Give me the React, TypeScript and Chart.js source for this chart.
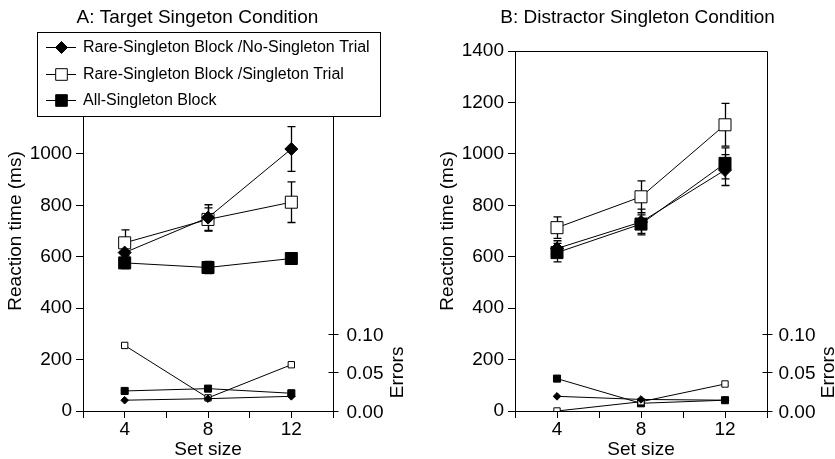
import React, { useEffect, useRef } from 'react';
import { Chart, registerables } from 'chart.js';
Chart.register(...registerables);

// ---------- data ----------
const setSizes = [4, 8, 12];
const xTickValues = [2, 4, 6, 8, 10, 12, 14];
const xLabelled = [4, 8, 12];
const rtTicks = [0, 200, 400, 600, 800, 1000, 1200, 1400];
const errTicks = [0, 0.05, 0.1];
const errTickLabels = ['0.00', '0.05', '0.10'];
const seriesNames = [
  'Rare-Singleton Block /No-Singleton Trial',
  'Rare-Singleton Block /Singleton Trial',
  'All-Singleton Block',
];

// Panel A: Target singleton condition
const aRtNoSingleton = [616, 752, 1019];
const aRtNoSingletonSE = [35, 50, 87];
const aRtSingleton = [654, 745, 812];
const aRtSingletonSE = [50, 45, 79];
const aRtAll = [576, 558, 593];
const aRtAllSE = [22, 24, 20];
const aErrNoSingleton = [0.014, 0.016, 0.019];
const aErrSingleton = [0.085, 0.017, 0.06];
const aErrAll = [0.026, 0.029, 0.023];

// Panel B: Distractor singleton condition
const bRtNoSingleton = [632, 735, 937];
const bRtNoSingletonSE = [30, 50, 60];
const bRtSingleton = [713, 833, 1113];
const bRtSingletonSE = [42, 62, 83];
const bRtAll = [616, 727, 963];
const bRtAllSE = [36, 36, 60];
const bErrNoSingleton = [0.019, 0.015, 0.014];
const bErrSingleton = [0.0, 0.012, 0.035];
const bErrAll = [0.042, 0.01, 0.014];

const RT_MAX = 1400;
const ERR_MAX = 1400 / 3000; // 0.10 errors <-> 300 ms

const FONT = '"Liberation Sans", Arial, sans-serif';
const FS = 19;

type Style = { pointStyle: string; fill: string; rtRadius: number; errRadius: number };
const styles: Style[] = [
  { pointStyle: 'rectRot', fill: '#000', rtRadius: 6.5, errRadius: 3.8 },
  { pointStyle: 'rect', fill: '#fff', rtRadius: 8.5, errRadius: 4.5 },
  { pointStyle: 'rect', fill: '#000', rtRadius: 8.5, errRadius: 5 },
];

const pts = (vals: number[]) => vals.map((v, i) => ({ x: setSizes[i], y: v }));

function drawMarker(ctx: CanvasRenderingContext2D, style: Style, x: number, y: number, r: number) {
  ctx.save();
  ctx.fillStyle = style.fill;
  ctx.strokeStyle = '#000';
  ctx.lineWidth = 1;
  ctx.beginPath();
  if (style.pointStyle === 'rectRot') {
    ctx.moveTo(x, y - r);
    ctx.lineTo(x + r, y);
    ctx.lineTo(x, y + r);
    ctx.lineTo(x - r, y);
    ctx.closePath();
  } else {
    const s = r * Math.SQRT1_2;
    ctx.rect(x - s, y - s, 2 * s, 2 * s);
  }
  ctx.fill();
  ctx.stroke();
  ctx.restore();
}

const errorBarPlugin = {
  id: 'errorBars',
  beforeDatasetsDraw(chart: any) {
    const ctx = chart.ctx as CanvasRenderingContext2D;
    chart.data.datasets.forEach((ds: any, i: number) => {
      const eb: number[] | undefined = ds.errorBars;
      if (!eb) return;
      const meta = chart.getDatasetMeta(i);
      const ys = chart.scales[meta.yAxisID];
      ctx.save();
      ctx.strokeStyle = '#000';
      ctx.lineWidth = 1.3;
      meta.data.forEach((pt: any, j: number) => {
        const v = ds.data[j].y;
        const e = eb[j];
        const x = Math.round(pt.x) + 0.5;
        const yt = ys.getPixelForValue(v + e);
        const yb = ys.getPixelForValue(v - e);
        ctx.beginPath();
        ctx.moveTo(x, yt);
        ctx.lineTo(x, yb);
        ctx.moveTo(x - 4, yt);
        ctx.lineTo(x + 4, yt);
        ctx.moveTo(x - 4, yb);
        ctx.lineTo(x + 4, yb);
        ctx.stroke();
      });
      ctx.restore();
    });
  },
};

type Panel = {
  title: string;
  titleX: number;
  rt: number[][];
  rtSE: number[][];
  err: number[][];
  yAxisWidth: number;
  padRight: number;
  yTitlePad: number;
  legend: boolean;
  maxLabelledTick: number;
  errTitleOffset: number;
  errLabelOffset: number;
};

function makeChart(canvas: HTMLCanvasElement, p: Panel) {
  const datasets: any[] = [];
  p.rt.forEach((vals, i) => {
    const st = styles[i];
    datasets.push({
      label: seriesNames[i],
      data: pts(vals),
      yAxisID: 'y',
      errorBars: p.rtSE[i],
      borderColor: '#000',
      borderWidth: 1,
      pointStyle: st.pointStyle,
      pointRadius: st.rtRadius,
      pointBackgroundColor: st.fill,
      pointBorderColor: '#000',
      pointBorderWidth: 1,
      fill: false,
    });
  });
  p.err.forEach((vals, i) => {
    const st = styles[i];
    datasets.push({
      label: seriesNames[i] + ' (errors)',
      data: pts(vals),
      yAxisID: 'y2',
      borderColor: '#000',
      borderWidth: 1,
      pointStyle: st.pointStyle,
      pointRadius: st.errRadius,
      pointBackgroundColor: st.fill,
      pointBorderColor: '#000',
      pointBorderWidth: 1,
      fill: false,
    });
  });

  const framePlugin = {
    id: 'frame',
    afterDraw(chart: any) {
      const ctx = chart.ctx as CanvasRenderingContext2D;
      const a = chart.chartArea;
      const y2 = chart.scales.y2;
      ctx.save();
      ctx.strokeStyle = '#000';
      ctx.lineWidth = 1;
      const top = Math.round(a.top) + 0.5;
      const right = Math.round(a.right) + 0.5;
      ctx.beginPath();
      ctx.moveTo(Math.round(a.left), top);
      ctx.lineTo(right, top);
      ctx.lineTo(right, Math.round(a.bottom) + 1);
      ctx.stroke();
      // right (errors) axis ticks
      ctx.fillStyle = '#000';
      ctx.font = `${FS}px ${FONT}`;
      ctx.textAlign = 'left';
      ctx.textBaseline = 'middle';
      errTicks.forEach((v, i) => {
        const y = Math.round(y2.getPixelForValue(v)) + 0.5;
        ctx.beginPath();
        ctx.moveTo(right - 5, y);
        ctx.lineTo(right + 5, y);
        ctx.stroke();
        ctx.fillText(errTickLabels[i], right + p.errLabelOffset, y + 1);
      });
      const yMid = (y2.getPixelForValue(0) + y2.getPixelForValue(0.1)) / 2;
      ctx.translate(right + p.errTitleOffset, yMid);
      ctx.rotate(-Math.PI / 2);
      ctx.textAlign = 'center';
      ctx.fillText('Errors', 0, 0);
      ctx.restore();

      // panel title
      ctx.save();
      ctx.fillStyle = '#000';
      ctx.font = `${FS}px ${FONT}`;
      ctx.textAlign = 'center';
      ctx.textBaseline = 'middle';
      ctx.fillText(p.title, p.titleX, 18);
      ctx.restore();

      if (p.legend) {
        ctx.save();
        const bx = 37.5, by = 32.5, bw = 343, bh = 84;
        ctx.fillStyle = '#fff';
        ctx.fillRect(bx, by, bw, bh);
        ctx.strokeStyle = '#000';
        ctx.lineWidth = 1;
        ctx.strokeRect(bx, by, bw, bh);
        const rows = [47, 73.5, 100];
        ctx.font = `16px ${FONT}`;
        ctx.textBaseline = 'middle';
        ctx.textAlign = 'left';
        seriesNames.forEach((name, i) => {
          const y = rows[i];
          ctx.beginPath();
          ctx.moveTo(46, Math.round(y) + 0.5);
          ctx.lineTo(76, Math.round(y) + 0.5);
          ctx.stroke();
          drawMarker(ctx, styles[i], 61.5, Math.round(y) + 0.5, i === 0 ? 6 : 8.2);
          ctx.fillStyle = '#000';
          ctx.fillText(name, 83, y + 1);
        });
        ctx.restore();
      }
    },
  };

  return new Chart(canvas, {
    type: 'line',
    data: { datasets },
    options: {
      responsive: false,
      animation: false,
      events: [],
      layout: { padding: { top: 51, right: p.padRight, left: 0, bottom: 0 } },
      plugins: { legend: { display: false }, tooltip: { enabled: false }, title: { display: false } },
      scales: {
        x: {
          type: 'linear',
          min: 2,
          max: 14,
          afterBuildTicks: (s: any) => {
            s.ticks = xTickValues.map((v) => ({ value: v }));
          },
          afterFit: (s: any) => {
            s.height = 48;
          },
          ticks: {
            autoSkip: false,
            maxRotation: 0,
            padding: 0,
            color: '#000',
            font: { family: FONT, size: FS },
            callback: (v: any) => (xLabelled.includes(Number(v)) ? String(v) : ''),
          },
          grid: { drawOnChartArea: false, drawTicks: true, tickLength: 7, color: '#000', lineWidth: 1 },
          border: { display: true, color: '#000', width: 1 },
          title: {
            display: true,
            text: 'Set size',
            color: '#000',
            font: { family: FONT, size: FS, lineHeight: 1 },
            padding: { top: 0, bottom: 0 },
          },
        },
        y: {
          type: 'linear',
          position: 'left',
          min: 0,
          max: RT_MAX,
          afterBuildTicks: (s: any) => {
            s.ticks = rtTicks.filter((v) => v <= p.maxLabelledTick).map((v) => ({ value: v }));
          },
          afterFit: (s: any) => {
            s.width = p.yAxisWidth;
          },
          ticks: {
            padding: 4,
            color: '#000',
            font: { family: FONT, size: FS },
            callback: (v: any) => String(v),
          },
          grid: { drawOnChartArea: false, drawTicks: true, tickLength: 7, color: '#000', lineWidth: 1 },
          border: { display: true, color: '#000', width: 1 },
          title: {
            display: true,
            text: 'Reaction time (ms)',
            color: '#000',
            font: { family: FONT, size: FS, lineHeight: 1 },
            padding: { top: p.yTitlePad, bottom: 0 },
          },
        },
        y2: {
          type: 'linear',
          position: 'right',
          display: false,
          min: 0,
          max: ERR_MAX,
        },
      },
    } as any,
    plugins: [errorBarPlugin, framePlugin] as any,
  });
}

const panelA: Panel = {
  title: 'A: Target Singeton Condition',
  titleX: 197.5,
  rt: [aRtNoSingleton, aRtSingleton, aRtAll],
  rtSE: [aRtNoSingletonSE, aRtSingletonSE, aRtAllSE],
  err: [aErrNoSingleton, aErrSingleton, aErrAll],
  yAxisWidth: 83,
  padRight: 85,
  yTitlePad: 6,
  legend: true,
  maxLabelledTick: 1000,
  errTitleOffset: 64,
  errLabelOffset: 13,
};

const panelB: Panel = {
  title: 'B: Distractor Singleton Condition',
  titleX: 219.5,
  rt: [bRtNoSingleton, bRtSingleton, bRtAll],
  rtSE: [bRtNoSingletonSE, bRtSingletonSE, bRtAllSE],
  err: [bErrNoSingleton, bErrSingleton, bErrAll],
  yAxisWidth: 97,
  padRight: 68,
  yTitlePad: 20,
  legend: false,
  maxLabelledTick: 1400,
  errTitleOffset: 61,
  errLabelOffset: 11,
};

export default function App() {
  const refA = useRef<HTMLCanvasElement>(null);
  const refB = useRef<HTMLCanvasElement>(null);
  useEffect(() => {
    const ca = makeChart(refA.current!, panelA);
    const cb = makeChart(refB.current!, panelB);
    return () => {
      ca.destroy();
      cb.destroy();
    };
  }, []);
  return (
    <div style={{ position: 'fixed', left: 0, top: 0, width: 835, height: 459, background: '#fff' }}>
      <canvas ref={refA} width={418} height={459} style={{ position: 'absolute', left: 0, top: 0 }} />
      <canvas ref={refB} width={417} height={459} style={{ position: 'absolute', left: 418, top: 0 }} />
    </div>
  );
}
